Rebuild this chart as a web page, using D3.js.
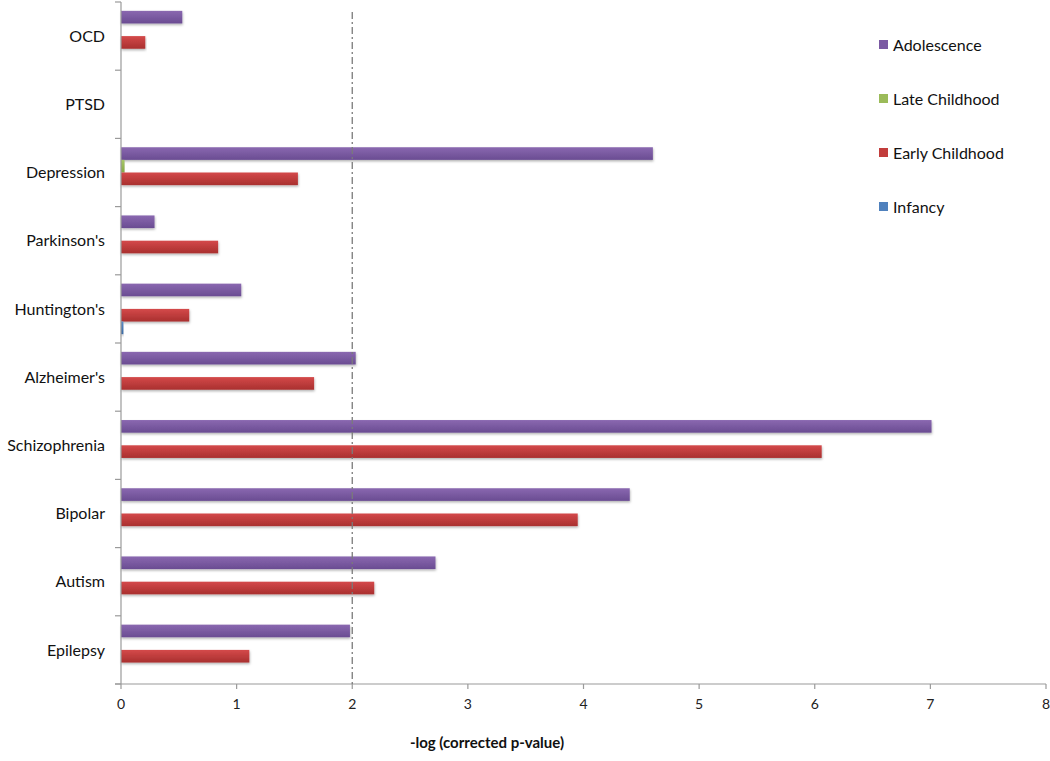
<!DOCTYPE html>
<html><head><meta charset="utf-8">
<script src="https://cdn.jsdelivr.net/npm/d3@7"></script>
<style>body{margin:0;background:#fff}svg{display:block}</style>
</head><body>
<script>
const categories = ["OCD","PTSD","Depression","Parkinson's","Huntington's","Alzheimer's","Schizophrenia","Bipolar","Autism","Epilepsy"];
const seriesNames = ["Adolescence","Late Childhood","Early Childhood","Infancy"];
const adolescence   = [0.53, 0, 4.60, 0.29, 1.04, 2.03, 7.01, 4.40, 2.72, 1.98];
const lateChildhood = [0, 0, 0.03, 0, 0, 0, 0, 0, 0, 0];
const earlyChildhood= [0.21, 0, 1.53, 0.84, 0.59, 1.67, 6.06, 3.95, 2.19, 1.11];
const infancy       = [0, 0, 0, 0, 0.02, 0, 0, 0, 0, 0];
const xTicks = [0,1,2,3,4,5,6,7,8];
const threshold = 2;
const xTitle = "-log (corrected p-value)";

const seriesValues = [adolescence, lateChildhood, earlyChildhood, infancy];
const colors = {"Adolescence":["#8a68b0","#6a4c92","#7b5aa3"],"Late Childhood":["#a8c868","#86a845","#9bbb59"],"Early Childhood":["#d4494a","#a9302f","#c23d3c"],"Infancy":["#5a8cc8","#3a6aa5","#4f81bd"]};
const font="Lato, 'Open Sans', sans-serif";

const W=1050,H=761;
const svg=d3.select("body").append("svg").attr("width",W).attr("height",H);
const defs=svg.append("defs");
seriesNames.forEach((s,i)=>{
  const g=defs.append("linearGradient").attr("id","g"+i).attr("x1",0).attr("y1",0).attr("x2",0).attr("y2",1);
  g.append("stop").attr("offset","0%").attr("stop-color",colors[s][0]);
  g.append("stop").attr("offset","100%").attr("stop-color",colors[s][1]);
});
const f=defs.append("filter").attr("id","sh").attr("x","-5%").attr("y","-30%").attr("width","110%").attr("height","170%");
f.append("feDropShadow").attr("dx",0.5).attr("dy",1.5).attr("stdDeviation",1).attr("flood-color","#000").attr("flood-opacity",0.3);

const x=d3.scaleLinear().domain([0,8]).range([121,1046]);
const y=d3.scaleBand().domain(categories).range([2,684]);
const inner=d3.scaleBand().domain(seriesNames).range([0,y.bandwidth()]).paddingInner(0).paddingOuter(0.7);

// bars
seriesNames.forEach((s,si)=>{
  svg.append("g").selectAll("rect").data(categories.map((c,i)=>({c,v:seriesValues[si][i]})).filter(d=>d.v>0))
    .join("rect")
    .attr("x",x(0)).attr("y",d=>y(d.c)+inner(s))
    .attr("width",d=>Math.max(x(d.v)-x(0),1.5)).attr("height",inner.bandwidth())
    .attr("fill","url(#g"+si+")").attr("filter","url(#sh)");
});

// y axis
const yAxis=svg.append("g");
yAxis.append("line").attr("x1",121).attr("x2",121).attr("y1",2).attr("y2",684).attr("stroke","#9a9a9a").attr("stroke-width",1.2);
const bounds=categories.map(c=>y(c)).concat([y.range()[1]]);
yAxis.selectAll("line.t").data(bounds).join("line").attr("class","t")
  .attr("x1",115).attr("x2",121).attr("y1",d=>d).attr("y2",d=>d).attr("stroke","#9a9a9a").attr("stroke-width",1.2);
yAxis.selectAll("text").data(categories).join("text")
  .attr("x",105).attr("y",d=>y(d)+y.bandwidth()/2).attr("dy","0.35em").attr("text-anchor","end")
  .attr("font-family",font).attr("font-size",16).attr("fill","#111").text(d=>d);

// x axis
const xAxis=svg.append("g");
xAxis.append("line").attr("x1",115).attr("x2",1046).attr("y1",684).attr("y2",684).attr("stroke","#9a9a9a").attr("stroke-width",1.2);
xAxis.selectAll("line.t").data(xTicks).join("line").attr("class","t")
  .attr("x1",d=>x(d)).attr("x2",d=>x(d)).attr("y1",684).attr("y2",689).attr("stroke","#9a9a9a").attr("stroke-width",1.2);
xAxis.selectAll("text").data(xTicks).join("text")
  .attr("x",d=>x(d)).attr("y",709).attr("text-anchor","middle")
  .attr("font-family",font).attr("font-size",14).attr("fill","#222").text(d=>d);
svg.append("text").attr("x",487).attr("y",748).attr("text-anchor","middle")
  .attr("font-family",font).attr("font-size",15).attr("font-weight","bold").attr("fill","#111").text(xTitle);

// threshold line
svg.append("line").attr("x1",x(threshold)).attr("x2",x(threshold)).attr("y1",12).attr("y2",684)
  .attr("stroke","#7a7a7a").attr("stroke-width",1.3).attr("stroke-dasharray","7,3,2,3");

// legend
const lg=svg.append("g");
seriesNames.forEach((s,i)=>{
  const yy=45+i*54;
  lg.append("rect").attr("x",879).attr("y",yy-5).attr("width",9).attr("height",9).attr("fill",colors[s][2]);
  lg.append("text").attr("x",893).attr("y",yy).attr("dy","0.35em")
    .attr("font-family",font).attr("font-size",16).attr("fill","#111").text(s);
});
</script>
</body></html>
